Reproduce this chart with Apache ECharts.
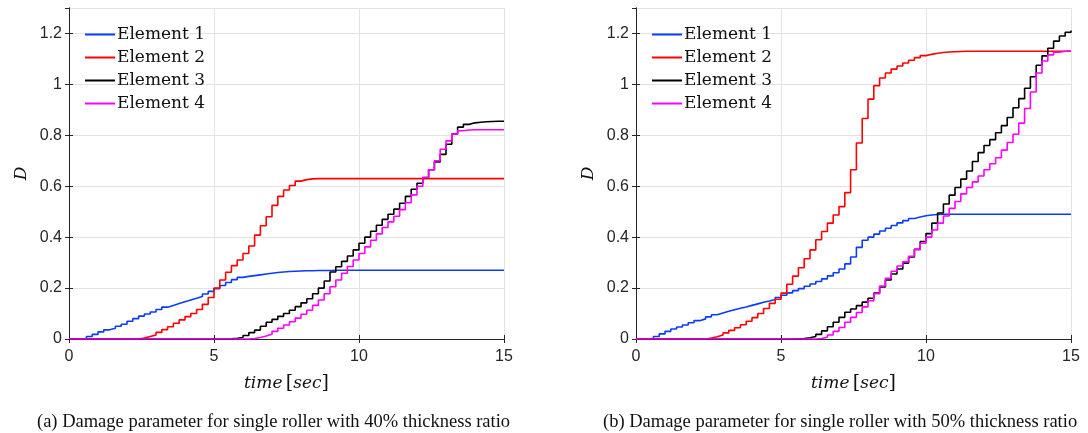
<!DOCTYPE html>
<html>
<head>
<meta charset="utf-8">
<script src="https://cdn.jsdelivr.net/npm/echarts@6/dist/echarts.min.js"></script>
<style>
  html, body { margin: 0; padding: 0; background: #fff; }
  #main { width: 1088px; height: 433px; }
</style>
</head>
<body>
<div id="main"></div>
<script>
// sampling instants (s)
const time = [
  0, 0.2, 0.4, 0.6, 0.8, 1, 1.2, 1.4, 1.6, 1.8, 2, 2.2, 2.4, 2.6, 2.8, 3, 3.2, 3.4, 3.6, 3.8,
  4, 4.2, 4.4, 4.6, 4.8, 5, 5.2, 5.4, 5.6, 5.8, 6, 6.2, 6.4, 6.6, 6.8, 7, 7.2, 7.4, 7.6, 7.8,
  8, 8.2, 8.4, 8.6, 8.8, 9, 9.2, 9.4, 9.6, 9.8, 10, 10.2, 10.4, 10.6, 10.8, 11, 11.2, 11.4, 11.6, 11.8,
  12, 12.2, 12.4, 12.6, 12.8, 13, 13.2, 13.4, 13.6, 13.8, 14, 14.2, 14.4, 14.6, 14.8, 15
];

const names = ["Element 1", "Element 2", "Element 3", "Element 4"];
const colors = ["#0a3cff", "#ff0000", "#000000", "#ff00ff"];

// (a) 40% thickness ratio
const a_el1 = [
  0, 0, 0, 0.01, 0.018, 0.028, 0.036, 0.042, 0.05, 0.058, 0.07, 0.08, 0.09, 0.098, 0.106, 0.116, 0.125, 0.132, 0.139, 0.146,
  0.153, 0.16, 0.167, 0.177, 0.187, 0.198, 0.21, 0.222, 0.233, 0.242, 0.246, 0.249, 0.252, 0.255, 0.258, 0.261, 0.263, 0.265, 0.266, 0.267,
  0.268, 0.268, 0.269, 0.269, 0.269, 0.27, 0.27, 0.27, 0.27, 0.27, 0.27, 0.27, 0.27, 0.27, 0.27, 0.27, 0.27, 0.27, 0.27, 0.27,
  0.27, 0.27, 0.27, 0.27, 0.27, 0.27, 0.27, 0.27, 0.27, 0.27, 0.27, 0.27, 0.27, 0.27, 0.27, 0.27
];
const a_el2 = [
  0, 0, 0, 0, 0, 0, 0, 0, 0, 0, 0, 0, 0.004, 0.01, 0.016, 0.026, 0.037, 0.048, 0.062, 0.075,
  0.088, 0.1, 0.116, 0.136, 0.163, 0.2, 0.232, 0.262, 0.288, 0.31, 0.336, 0.365, 0.408, 0.445, 0.48, 0.525, 0.56, 0.585, 0.603, 0.62,
  0.626, 0.629, 0.63, 0.63, 0.63, 0.63, 0.63, 0.63, 0.63, 0.63, 0.63, 0.63, 0.63, 0.63, 0.63, 0.63, 0.63, 0.63, 0.63, 0.63,
  0.63, 0.63, 0.63, 0.63, 0.63, 0.63, 0.63, 0.63, 0.63, 0.63, 0.63, 0.63, 0.63, 0.63, 0.63, 0.63
];
const a_el3 = [
  0, 0, 0, 0, 0, 0, 0, 0, 0, 0, 0, 0, 0, 0, 0, 0, 0, 0, 0, 0,
  0, 0, 0, 0, 0, 0, 0, 0.001, 0.003, 0.006, 0.014, 0.025, 0.035, 0.05, 0.066, 0.077, 0.089, 0.1, 0.113, 0.127,
  0.142, 0.158, 0.178, 0.2, 0.228, 0.263, 0.284, 0.305, 0.326, 0.35, 0.376, 0.4, 0.423, 0.447, 0.47, 0.49, 0.51, 0.533, 0.56, 0.588,
  0.612, 0.634, 0.665, 0.695, 0.725, 0.765, 0.805, 0.832, 0.843, 0.849, 0.851, 0.853, 0.854, 0.855, 0.855, 0.855
];
const a_el4 = [
  0, 0, 0, 0, 0, 0, 0, 0, 0, 0, 0, 0, 0, 0, 0, 0, 0, 0, 0, 0,
  0, 0, 0, 0, 0, 0, 0, 0, 0, 0, 0, 0.002, 0.006, 0.012, 0.019, 0.03, 0.042, 0.055, 0.068, 0.082,
  0.097, 0.113, 0.132, 0.153, 0.178, 0.205, 0.232, 0.258, 0.285, 0.31, 0.336, 0.362, 0.388, 0.413, 0.438, 0.46, 0.482, 0.508, 0.535, 0.566,
  0.6, 0.634, 0.665, 0.7, 0.745, 0.778, 0.805, 0.818, 0.821, 0.822, 0.822, 0.822, 0.822, 0.822, 0.822, 0.822
];

// (b) 50% thickness ratio
const b_el1 = [
  0, 0, 0, 0.01, 0.02, 0.03, 0.039, 0.047, 0.055, 0.064, 0.072, 0.079, 0.087, 0.095, 0.102, 0.109, 0.115, 0.121, 0.126, 0.132,
  0.138, 0.144, 0.149, 0.155, 0.163, 0.172, 0.181, 0.19, 0.198, 0.207, 0.216, 0.226, 0.236, 0.248, 0.26, 0.275, 0.295, 0.322, 0.36, 0.388,
  0.4, 0.412, 0.424, 0.435, 0.446, 0.456, 0.465, 0.473, 0.479, 0.484, 0.487, 0.489, 0.49, 0.49, 0.49, 0.49, 0.49, 0.49, 0.49, 0.49,
  0.49, 0.49, 0.49, 0.49, 0.49, 0.49, 0.49, 0.49, 0.49, 0.49, 0.49, 0.49, 0.49, 0.49, 0.49, 0.49
];
const b_el2 = [
  0, 0, 0, 0, 0, 0, 0, 0, 0, 0, 0, 0, 0.004, 0.009, 0.016, 0.024, 0.034, 0.044, 0.056, 0.07,
  0.084, 0.1, 0.12, 0.14, 0.156, 0.18, 0.215, 0.247, 0.28, 0.315, 0.35, 0.39, 0.422, 0.455, 0.487, 0.52, 0.575, 0.665, 0.77, 0.866,
  0.942, 0.995, 1.025, 1.045, 1.06, 1.072, 1.084, 1.095, 1.105, 1.113, 1.118, 1.122, 1.125, 1.127, 1.128, 1.129, 1.13, 1.13, 1.13, 1.13,
  1.13, 1.13, 1.13, 1.13, 1.13, 1.13, 1.13, 1.13, 1.13, 1.13, 1.13, 1.13, 1.13, 1.13, 1.13, 1.13
];
const b_el3 = [
  0, 0, 0, 0, 0, 0, 0, 0, 0, 0, 0, 0, 0, 0, 0, 0, 0, 0, 0, 0,
  0, 0, 0, 0, 0, 0, 0, 0.001, 0.002, 0.005, 0.01, 0.018, 0.032, 0.048, 0.066, 0.085, 0.105, 0.118, 0.131, 0.145,
  0.16, 0.18, 0.204, 0.232, 0.255, 0.275, 0.298, 0.322, 0.352, 0.383, 0.414, 0.455, 0.495, 0.53, 0.565, 0.595, 0.628, 0.66, 0.697, 0.732,
  0.76, 0.783, 0.81, 0.838, 0.87, 0.908, 0.944, 0.985, 1.03, 1.075, 1.112, 1.142, 1.17, 1.19, 1.205, 1.212
];
const b_el4 = [
  0, 0, 0, 0, 0, 0, 0, 0, 0, 0, 0, 0, 0, 0, 0, 0, 0, 0, 0, 0,
  0, 0, 0, 0, 0, 0, 0, 0, 0, 0, 0, 0.002, 0.007, 0.016, 0.03, 0.045, 0.066, 0.085, 0.104, 0.126,
  0.15, 0.178, 0.208, 0.238, 0.266, 0.287, 0.303, 0.325, 0.352, 0.376, 0.4, 0.428, 0.455, 0.483, 0.513, 0.54, 0.57, 0.595, 0.617, 0.64,
  0.665, 0.688, 0.712, 0.742, 0.772, 0.804, 0.848, 0.905, 0.97, 1.045, 1.092, 1.116, 1.126, 1.13, 1.131, 1.132
];

const xTicks = { min: 0, max: 15, interval: 5 };
const yTicks = { min: 0, max: 1.3, interval: 0.2 };
const captions = [
  "(a) Damage parameter for single roller with 40% thickness ratio",
  "(b) Damage parameter for single roller with 50% thickness ratio"
];

const axisColor = "#262626";
const gridDefs = [
  { left: 69, top: 8, width: 435, height: 331 },
  { left: 636, top: 8, width: 435, height: 331 }
];

const xAxes = [];
const yAxes = [];
gridDefs.forEach((g, i) => {
  xAxes.push({
    type: "value", gridIndex: i, ...xTicks, position: "bottom",
    name: "{i|time} {n|[}{i|sec}{n|]}", nameLocation: "middle", nameGap: 35,
    nameTextStyle: {
      rich: {
        i: { fontFamily: "DejaVu Serif", fontStyle: "italic", fontSize: 17, color: "#111" },
        n: { fontFamily: "DejaVu Serif", fontSize: 19, color: "#111" }
      }
    },
    axisLine: { show: true, lineStyle: { color: axisColor, width: 1 } },
    axisTick: { show: true, inside: true, length: 4, lineStyle: { color: axisColor } },
    axisLabel: { fontFamily: "Liberation Sans", fontSize: 16, color: axisColor, margin: 10 },
    splitLine: { show: true, lineStyle: { color: "#e3e3e3", width: 1 } }
  });
  xAxes.push({
    type: "value", gridIndex: i, ...xTicks, position: "top",
    axisLine: { show: true, lineStyle: { color: axisColor, width: 1 } },
    axisTick: { show: true, inside: true, length: 4, lineStyle: { color: axisColor } },
    axisLabel: { show: false }, splitLine: { show: false }
  });
  yAxes.push({
    type: "value", gridIndex: i, ...yTicks, position: "left",
    name: "D", nameLocation: "middle", nameGap: 39, nameRotate: 90,
    nameTextStyle: { fontFamily: "DejaVu Serif", fontStyle: "italic", fontSize: 17, color: "#111" },
    axisLine: { show: true, lineStyle: { color: axisColor, width: 1 } },
    axisTick: { show: true, inside: true, length: 4, lineStyle: { color: axisColor } },
    axisLabel: { fontFamily: "Liberation Sans", fontSize: 16, color: axisColor, margin: 7, showMaxLabel: false },
    splitLine: { show: true, lineStyle: { color: "#e3e3e3", width: 1 } }
  });
  yAxes.push({
    type: "value", gridIndex: i, ...yTicks, position: "right",
    axisLine: { show: true, lineStyle: { color: axisColor, width: 1 } },
    axisTick: { show: true, inside: true, length: 4, lineStyle: { color: axisColor } },
    axisLabel: { show: false }, splitLine: { show: false }
  });
});

const panels = [
  [a_el1, a_el2, a_el3, a_el4],
  [b_el1, b_el2, b_el3, b_el4]
];
const series = [];
panels.forEach((panel, p) => {
  panel.forEach((vals, k) => {
    series.push({
      name: names[k],
      type: "line",
      xAxisIndex: p * 2,
      yAxisIndex: p * 2,
      step: "end",
      showSymbol: false,
      z: 3 + k,
      lineStyle: { color: colors[k], width: 1.6 },
      itemStyle: { color: colors[k] },
      data: time.map((t, j) => [t, vals[j]])
    });
  });
});

const legendBase = {
  data: names,
  orient: "vertical",
  top: 26,
  padding: 0,
  icon: "rect",
  itemWidth: 30,
  itemHeight: 2,
  itemGap: 6,
  selectedMode: false,
  textStyle: { fontFamily: "DejaVu Serif", fontSize: 17, color: "#111", padding: [0, 0, 0, -3] }
};

const option = {
  animation: false,
  backgroundColor: "#fff",
  grid: gridDefs,
  xAxis: xAxes,
  yAxis: yAxes,
  legend: [
    { ...legendBase, left: 85 },
    { ...legendBase, left: 652 }
  ],
  series: series,
  graphic: [
    { type: "text", left: 37, top: 413, style: { text: captions[0], font: "18.5px 'Liberation Serif'", fill: "#111" } },
    { type: "text", left: 603, top: 413, style: { text: captions[1], font: "18.5px 'Liberation Serif'", fill: "#111" } }
  ]
};

const chart = echarts.init(document.getElementById("main"), null, { renderer: "canvas" });
chart.setOption(option);
</script>
</body>
</html>
